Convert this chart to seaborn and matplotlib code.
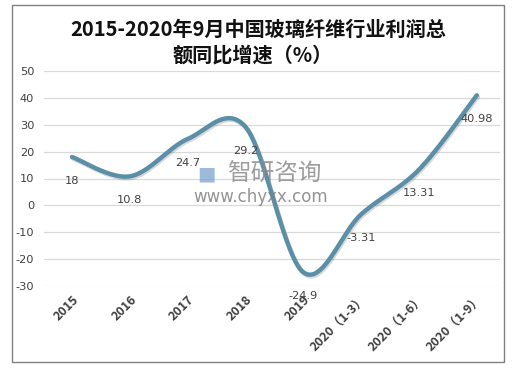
import numpy as np
import pandas as pd
import matplotlib
matplotlib.use("Agg")
import matplotlib.pyplot as plt
import matplotlib.patheffects as pe
import matplotlib.transforms as mtransforms
from matplotlib.patches import Rectangle
import seaborn as sns

categories = ["2015", "2016", "2017", "2018", "2019", "2020（1-3）", "2020（1-6）", "2020（1-9）"]
values = [18, 10.8, 24.7, 29.2, -24.9, -3.31, 13.31, 40.98]
labels = ["18", "10.8", "24.7", "29.2", "-24.9", "-3.31", "13.31", "40.98"]
yticks = [-30, -20, -10, 0, 10, 20, 30, 40, 50]

sns.set_theme(style="white")
plt.rcParams['font.family'] = ['Noto Sans CJK SC', 'DejaVu Sans']

W, H = 523, 369
fig = plt.figure(figsize=(W / 100, H / 100), dpi=100)
ax = fig.add_axes([44 / W, (H - 286) / H, (500 - 44) / W, (286 - 71) / H])

# Catmull-Rom smoothing (Excel-style smoothed line)
x = np.arange(len(values), dtype=float)
y = np.array(values, dtype=float)
px = np.concatenate([[x[0]], x, [x[-1]]])
py = np.concatenate([[y[0]], y, [y[-1]]])
sx, sy = [], []
for i in range(len(x) - 1):
    p0 = np.array([px[i], py[i]]); p1 = np.array([px[i + 1], py[i + 1]])
    p2 = np.array([px[i + 2], py[i + 2]]); p3 = np.array([px[i + 3], py[i + 3]])
    c1 = p1 + (p2 - p0) / 6.0
    c2 = p2 - (p3 - p1) / 6.0
    t = np.linspace(0, 1, 40)[:, None]
    b = (1 - t) ** 3 * p1 + 3 * (1 - t) ** 2 * t * c1 + 3 * (1 - t) * t ** 2 * c2 + t ** 3 * p2
    sx.extend(b[:, 0]); sy.extend(b[:, 1])
df = pd.DataFrame({"x": sx, "y": sy})

# watermark (under the line)
fig.text(206 / W, 1 - 174 / H, "■", fontsize=14, color="#7da3cf", alpha=0.75, ha="center", va="center",
         family=["DejaVu Sans"], zorder=0)
fig.text(274 / W, 1 - 174 / H, "智研咨询", fontsize=17, color="#8c8c8c", alpha=0.85, ha="center", va="center",
         zorder=0)
fig.text(261 / W, 1 - 197 / H, "www.chyxx.com", fontsize=12, color="#808080", alpha=0.85,
         ha="center", va="center", family=["DejaVu Sans"], zorder=0)

sns.lineplot(data=df, x="x", y="y", ax=ax, color="#5b8fa8", linewidth=3.2, sort=False,
             path_effects=[pe.SimpleLineShadow(offset=(0.8, -1.2), alpha=0.2, shadow_color="#444444"), pe.Normal()])
ax.patch.set_alpha(0)

for xi, yi, lb in zip(x, y, labels):
    ax.annotate(lb, (xi, yi), xytext=(0, -17), textcoords="offset points", ha="center", va="center",
                fontsize=8.2, color="#404040", family=["DejaVu Sans"])

ax.set_xlim(-0.484, 7.4)
ax.set_ylim(-30, 50)
ax.set_yticks(yticks)
ax.set_yticklabels([str(v) for v in yticks], fontsize=8.2, color="#404040", family=["DejaVu Sans"])
ax.set_xticks(x)
ax.set_xticklabels(categories, rotation=45, ha="right", rotation_mode="anchor", fontsize=9,
                   fontweight="bold", color="#404040")
offset = mtransforms.ScaledTranslation(4 / 100, 0, fig.dpi_scale_trans)
for lab in ax.get_xticklabels():
    lab.set_transform(lab.get_transform() + offset)
ax.tick_params(axis="y", length=0, pad=7)
ax.tick_params(axis="x", length=0, pad=5)
ax.grid(axis="y", color="#d9d9d9", linewidth=0.9)
ax.set_axisbelow(True)
for s in ax.spines.values():
    s.set_visible(False)
ax.set_xlabel("")
ax.set_ylabel("")

fig.text(258 / W, 1 - 29 / H, "2015-2020年9月中国玻璃纤维行业利润总", fontsize=14.5, fontweight="bold",
         ha="center", va="center", color="#111111")
fig.text(253 / W, 1 - 55 / H, "额同比增速（%）", fontsize=14.5, fontweight="bold",
         ha="center", va="center", color="#111111")

fig.patches.append(Rectangle((12 / W, 1 - 362 / H), (504 - 12) / W, (362 - 5) / H, transform=fig.transFigure,
                             fill=False, edgecolor="#808080", linewidth=1.0))

fig.savefig("out.png", dpi=100)
